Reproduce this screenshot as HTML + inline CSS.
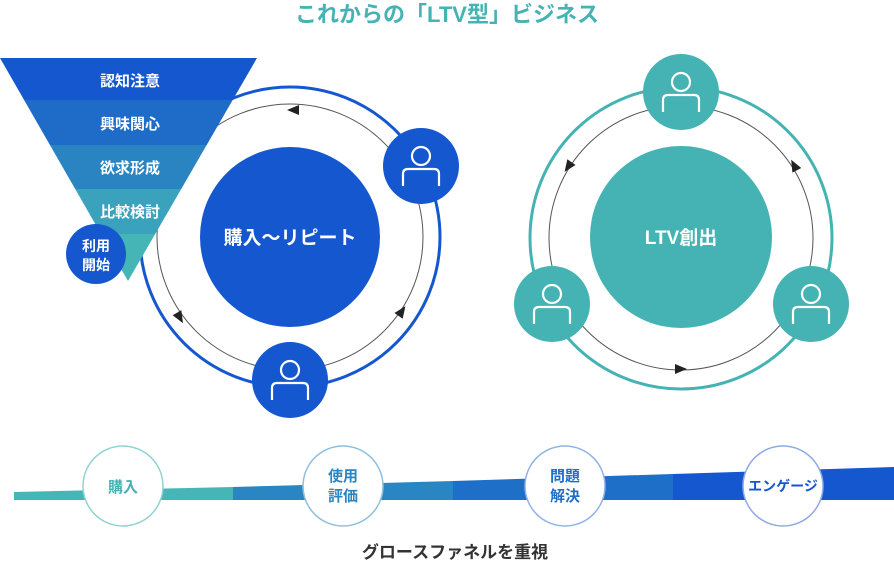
<!DOCTYPE html>
<html><head><meta charset="utf-8"><style>
html,body{margin:0;padding:0;background:#fff;width:894px;height:581px;overflow:hidden}
svg{display:block}
text{font-family:"Liberation Sans","Noto Sans CJK JP",sans-serif;font-weight:bold}
</style></head><body>
<svg width="894" height="581" viewBox="0 0 894 581" xmlns="http://www.w3.org/2000/svg">
<defs>
<g id="p"><circle cx="0" cy="-10" r="9" fill="none" stroke="#fff" stroke-width="2.2"/><path d="M-18 20 V8 Q-18 3 -13 3 H13 Q18 3 18 8 V20" fill="none" stroke="#fff" stroke-width="2.2"/></g>
<path id="ar" d="M-6 -5 L6 0 L-6 5 Z" fill="#222"/>
<clipPath id="tri"><polygon points="0,58 257,58 128,281"/></clipPath>
</defs>
<text x="447" y="22" text-anchor="middle" font-size="22" fill="#45b3b3">これからの「LTV型」ビジネス</text>

<!-- left ring -->
<circle cx="290" cy="237" r="150" fill="none" stroke="#1557cf" stroke-width="3"/>
<circle cx="290" cy="237" r="133" fill="none" stroke="#555" stroke-width="1"/>
<use href="#ar" transform="translate(293,110) rotate(180)"/>
<use href="#ar" transform="translate(180,318) rotate(60)"/>
<use href="#ar" transform="translate(402,311) rotate(-55)"/>
<circle cx="290" cy="237" r="90" fill="#1557cf"/>
<text x="290" y="244" text-anchor="middle" font-size="19" fill="#fff">購入〜リピート</text>
<!-- funnel -->
<g clip-path="url(#tri)">
<rect x="0" y="58" width="260" height="42" fill="#1557cf"/>
<rect x="0" y="100" width="260" height="45" fill="#1e6cc7"/>
<rect x="0" y="145" width="260" height="44" fill="#2a84c2"/>
<rect x="0" y="189" width="260" height="45" fill="#3aa2bd"/>
<rect x="0" y="234" width="260" height="50" fill="#45b5b5"/>
</g>
<g font-size="15" fill="#fff" text-anchor="middle">
<text x="130" y="86">認知注意</text>
<text x="130" y="129">興味関心</text>
<text x="130" y="173">欲求形成</text>
<text x="130" y="217">比較検討</text>
</g>
<circle cx="96" cy="254" r="30" fill="#1557cf"/>
<text x="96" y="251" text-anchor="middle" font-size="14" fill="#fff">利用</text>
<text x="96" y="270" text-anchor="middle" font-size="14" fill="#fff">開始</text>
<circle cx="421" cy="166" r="38" fill="#1557cf"/><use href="#p" x="421" y="166"/>
<circle cx="290" cy="380" r="38" fill="#1557cf"/><use href="#p" x="290" y="380"/>

<!-- right ring -->
<circle cx="681" cy="238" r="151" fill="none" stroke="#45b3b3" stroke-width="3"/>
<circle cx="681" cy="238" r="132" fill="none" stroke="#555" stroke-width="1"/>
<use href="#ar" transform="translate(568,167) rotate(125)"/>
<use href="#ar" transform="translate(794,165) rotate(-118)"/>
<use href="#ar" transform="translate(681,369)"/>
<circle cx="681" cy="237" r="91" fill="#45b3b3"/>
<text x="681" y="244" text-anchor="middle" font-size="19" fill="#fff">LTV創出</text>
<circle cx="681" cy="92" r="38" fill="#45b3b3"/><use href="#p" x="681" y="92"/>
<circle cx="552" cy="304" r="38" fill="#45b3b3"/><use href="#p" x="552" y="304"/>
<circle cx="811" cy="304" r="38" fill="#45b3b3"/><use href="#p" x="811" y="304"/>

<!-- bottom band -->
<polygon points="14,492 233,487 233,500 14,500" fill="#45b5b5"/>
<polygon points="233,487 453,481 453,500 233,500" fill="#2a86c2"/>
<polygon points="453,481 673,474 673,500 453,500" fill="#1e6fc8"/>
<polygon points="673,474 894,467 894,500 673,500" fill="#1557cf"/>
<circle cx="123" cy="486" r="40" fill="#fff" stroke="#8fd3d3" stroke-width="1.5"/>
<text x="123" y="492" text-anchor="middle" font-size="15" fill="#45b3b3">購入</text>
<circle cx="343" cy="486" r="40" fill="#fff" stroke="#8fbfe0" stroke-width="1.5"/>
<text x="343" y="481" text-anchor="middle" font-size="15" fill="#2a86c2">使用</text>
<text x="343" y="501" text-anchor="middle" font-size="15" fill="#2a86c2">評価</text>
<circle cx="565" cy="486" r="40" fill="#fff" stroke="#8fb3e3" stroke-width="1.5"/>
<text x="565" y="481" text-anchor="middle" font-size="15" fill="#1e6fc8">問題</text>
<text x="565" y="501" text-anchor="middle" font-size="15" fill="#1e6fc8">解決</text>
<circle cx="783" cy="486" r="40" fill="#fff" stroke="#8fa8e6" stroke-width="1.5"/>
<text x="783" y="491" text-anchor="middle" font-size="14" fill="#1557cf">エンゲージ</text>
<text x="455" y="558" text-anchor="middle" font-size="17" fill="#333">グロースファネルを重視</text>
</svg>
</body></html>
